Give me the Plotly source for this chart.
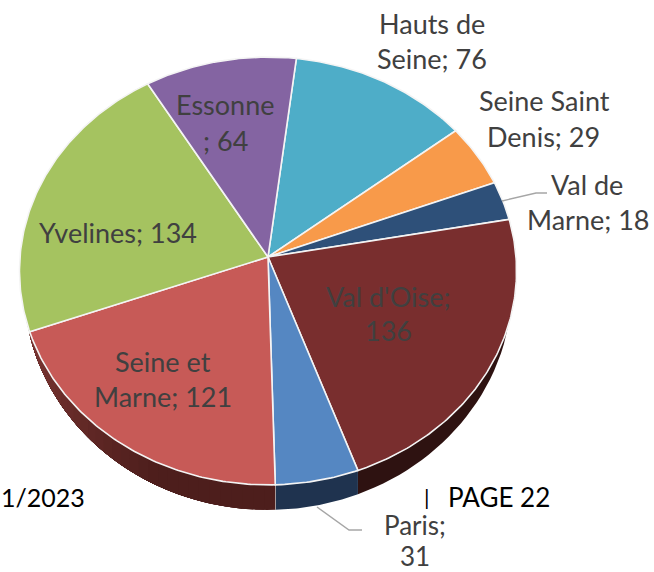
import math
import plotly.graph_objects as go

# --- data (clockwise from the top) ---
categories = ["Hauts de Seine", "Seine Saint Denis", "Val de Marne", "Val d'Oise",
              "Paris", "Seine et Marne", "Yvelines", "Essonne"]
values = [76, 29, 18, 136, 31, 121, 134, 64]

# --- styles ---
top_colors = ["#4eadc8", "#f89a4a", "#2e5079", "#792e2e", "#5587c2", "#c75a57", "#a5c360", "#8464a2"]
side_start = ["#2a6677", "#945a2a", "#1b2f47", "#2e1211", "#1f334f", "#7c3633", "#62743a", "#4e3c60"]
side_end = ["#2a6677", "#945a2a", "#1b2f47", "#2e1211", "#1f334f", "#4d1e1c", "#62743a", "#4e3c60"]
LABEL_COLOR = "#404040"
FONT = "Lato"
label_sizes = [27, 27, 27, 27, 26, 27, 27, 27]

label_lines = [
    ["Hauts de", "Seine; 76"], ["Seine Saint", "Denis; 29"], ["Val de", "Marne; 18"],
    ["Val d'Oise;", "136"], ["Paris;", "31"], ["Seine et", "Marne; 121"],
    ["Yvelines; 134"], ["Essonne", "; 64"],
]
label_pos = [
    [(432, 23), (432, 58)], [(544, 100), (543, 136)], [(587, 184), (588, 219)],
    [(388, 296), (388, 330)], [(415, 524.5), (415, 556)], [(163, 361), (163, 396)],
    [(118, 232)], [(225, 104), (225, 140)],
]

# --- projection of the tilted disc ---
CX, CY = 268, 257
AX, AY, K = 248, 213, 0.0654
START_DEG = 7
DEPTH, SIDE_TOP_Y = 25, 330


def rim(deg):
    t = math.radians(deg)
    u, v = math.sin(t), math.cos(t)
    w = 1 + K * v
    return CX + AX * u / w, CY - AY * v / w


def lower(deg):
    x, y = rim(deg)
    f = max(0.0, (y - SIDE_TOP_Y) / (CY + 228 - SIDE_TOP_Y))
    return x, y + DEPTH * math.sqrt(f)


def hexmix(a, b, f):
    ca = [int(a[i:i + 2], 16) for i in (1, 3, 5)]
    cb = [int(b[i:i + 2], 16) for i in (1, 3, 5)]
    return "#" + "".join(f"{round(p + (q - p) * f):02x}" for p, q in zip(ca, cb))


fig = go.Figure()
common = dict(mode="lines", showlegend=False, hoverinfo="skip")
total = sum(values)
edges = [START_DEG]
for val in values:
    edges.append(edges[-1] + 360 * val / total)


def wall(d0, d1):
    ds = [d0 + (d1 - d0) * s / 40 for s in range(41)]
    top = [rim(d) for d in ds]
    bot = [lower(d) for d in reversed(ds)]
    return top + bot + top[:1]


# side wall: each band paints from its start to the end of the slice, so no seams show
for i, (a, b) in enumerate(zip(edges[:-1], edges[1:])):
    if rim(a)[1] <= SIDE_TOP_Y and rim(b)[1] <= SIDE_TOP_Y:
        continue
    n = 30 if side_start[i] != side_end[i] else 1
    for j in range(n):
        d0 = a + (b - a) * j / n
        # walking clockwise from the bottom toward the left: dark tone turning lighter
        f = min(1.0, (1 - (j + 0.5) / n) * 1.6) if n > 1 else 0
        col = hexmix(side_start[i], side_end[i], f)
        p = wall(d0, b)
        fig.add_trace(go.Scatter(x=[q[0] for q in p], y=[q[1] for q in p], fill="toself",
                                 fillcolor=col, line=dict(color=col, width=0), **common))
    if rim(a)[1] > SIDE_TOP_Y and rim(b)[1] > SIDE_TOP_Y:
        p = [rim(b), lower(b)]
        fig.add_trace(go.Scatter(x=[q[0] for q in p], y=[q[1] for q in p],
                                 line=dict(color="#d9d9d9", width=1.2), **common))

# top faces
for i, (a, b) in enumerate(zip(edges[:-1], edges[1:])):
    steps = max(4, int((b - a) * 1.5))
    pts = [(CX, CY)] + [rim(a + (b - a) * s / steps) for s in range(steps + 1)] + [(CX, CY)]
    fig.add_trace(go.Scatter(x=[q[0] for q in pts], y=[q[1] for q in pts], fill="toself",
                             fillcolor=top_colors[i], line=dict(color="#f4f4f4", width=1.6),
                             name=categories[i], **common))

# leader lines
leader_x = [[502, 536, 547], [317, 349, 362]]
leader_y = [[201, 193, 193], [507, 530, 530]]
for xs, ys in zip(leader_x, leader_y):
    fig.add_trace(go.Scatter(x=xs, y=ys, line=dict(color="#a6a6a6", width=1.4), **common))

annotations = []
for lines, positions, size in zip(label_lines, label_pos, label_sizes):
    for text, (x, y) in zip(lines, positions):
        annotations.append(dict(x=x, y=y, text=text, showarrow=False, xanchor="center", yanchor="middle",
                                borderpad=0, font=dict(family=FONT, size=size, color=LABEL_COLOR)))
footer = dict(showarrow=False, yanchor="middle", borderpad=0)
annotations.append(dict(x=0, y=497, text="1/2023", xanchor="left",
                        font=dict(family=FONT, size=25, color="#000000"), **footer))
annotations.append(dict(x=427, y=496, text="|", xanchor="center",
                        font=dict(family=FONT, size=22, color="#000000"), **footer))
annotations.append(dict(x=447, y=497, text="PAGE 22", xanchor="left",
                        font=dict(family=FONT, size=26, color="#000000"), **footer))

fig.update_layout(width=654, height=572, margin=dict(l=0, r=0, t=0, b=0),
                  paper_bgcolor="white", plot_bgcolor="white", annotations=annotations,
                  xaxis=dict(range=[0, 654], visible=False, fixedrange=True),
                  yaxis=dict(range=[572, 0], visible=False, fixedrange=True))
fig.write_html("out.html", config=dict(displayModeBar=False),
               post_script="document.body.style.margin='0';")
